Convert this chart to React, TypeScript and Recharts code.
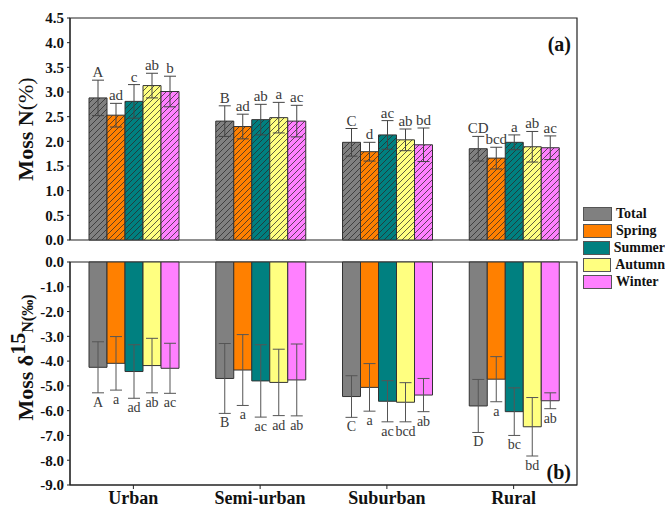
import {
  Bar,
  BarChart,
  ErrorBar,
  LabelList,
  Legend,
  ReferenceArea,
  XAxis,
  YAxis,
} from "recharts";

const categories = ["Urban", "Semi-urban", "Suburban", "Rural"];
const seriesNames = ["Total", "Spring", "Summer", "Autumn", "Winter"];
const seriesColors = ["#808080", "#ff8000", "#008080", "#ffff80", "#ff80ff"];

// panel (a): moss N (%)
const nTotal = [2.88, 2.41, 1.98, 1.85];
const nSpring = [2.53, 2.3, 1.79, 1.66];
const nSummer = [2.81, 2.44, 2.13, 1.98];
const nAutumn = [3.13, 2.48, 2.03, 1.89];
const nWinter = [3.01, 2.41, 1.93, 1.87];
const nTotalErr = [0.36, 0.31, 0.28, 0.25];
const nSpringErr = [0.24, 0.25, 0.19, 0.22];
const nSummerErr = [0.34, 0.31, 0.29, 0.15];
const nAutumnErr = [0.25, 0.31, 0.22, 0.31];
const nWinterErr = [0.31, 0.32, 0.34, 0.24];
const nTotalSig = ["A", "B", "C", "CD"];
const nSpringSig = ["ad", "ad", "d", "bcd"];
const nSummerSig = ["c", "ab", "ac", "a"];
const nAutumnSig = ["ab", "a", "ab", "ab"];
const nWinterSig = ["b", "ac", "bd", "ac"];
const nTicks = [0, 0.5, 1, 1.5, 2, 2.5, 3, 3.5, 4, 4.5];

// panel (b): moss d15N (permil)
const dTotal = [-4.25, -4.7, -5.43, -5.81];
const dSpring = [-4.09, -4.36, -5.06, -4.73];
const dSummer = [-4.42, -4.8, -5.62, -6.04];
const dAutumn = [-4.18, -4.86, -5.66, -6.65];
const dWinter = [-4.29, -4.76, -5.37, -5.6];
const dTotalErr = [1.03, 1.41, 0.84, 1.07];
const dSpringErr = [1.08, 1.43, 0.96, 0.91];
const dSummerErr = [1.08, 1.46, 0.83, 0.96];
const dAutumnErr = [1.1, 1.34, 0.79, 1.18];
const dWinterErr = [1.01, 1.45, 0.67, 0.32];
const dTotalSig = ["A", "B", "C", "D"];
const dSpringSig = ["a", "a", "a", "a"];
const dSummerSig = ["ad", "ac", "ac", "bc"];
const dAutumnSig = ["ab", "ad", "bcd", "bd"];
const dWinterSig = ["ac", "ab", "ab", "ab"];
const dTicks = [0, -1, -2, -3, -4, -5, -6, -7, -8, -9];

const FONT = "'Liberation Serif', 'Times New Roman', serif";
const keys = ["total", "spring", "summer", "autumn", "winter"];

const nVals = [nTotal, nSpring, nSummer, nAutumn, nWinter];
const nErrs = [nTotalErr, nSpringErr, nSummerErr, nAutumnErr, nWinterErr];
const nSigs = [nTotalSig, nSpringSig, nSummerSig, nAutumnSig, nWinterSig];
const dVals = [dTotal, dSpring, dSummer, dAutumn, dWinter];
const dErrs = [dTotalErr, dSpringErr, dSummerErr, dAutumnErr, dWinterErr];
const dSigs = [dTotalSig, dSpringSig, dSummerSig, dAutumnSig, dWinterSig];

function buildRows(vals: number[][], errs: number[][], sigs: string[][]) {
  return categories.map((cat, i) => {
    const row: Record<string, string | number> = { cat };
    keys.forEach((k, s) => {
      row[k] = vals[s][i];
      row[k + "Err"] = errs[s][i];
      row[k + "Sig"] = sigs[s][i];
    });
    return row;
  });
}

const nData = buildRows(nVals, nErrs, nSigs);
const dData = buildRows(dVals, dErrs, dSigs);

// letter placed just past the end of the error bar
function sigLabel(vals: number[], errs: number[], sigs: string[], below: boolean) {
  return (props: any) => {
    const vb = props.viewBox ?? {};
    const x = Number(props.x ?? vb.x);
    const y = Number(props.y ?? vb.y);
    const w = Number(props.width ?? vb.width);
    const h = Number(props.height ?? vb.height);
    const i = props.index;
    if (i == null || isNaN(x)) return null;
    const ppu = Math.abs(h) / Math.abs(vals[i]);
    const top = Math.min(y, y + h);
    const bot = Math.max(y, y + h);
    const ty = below ? bot + errs[i] * ppu + 14 : top - errs[i] * ppu - 3;
    return (
      <text
        x={x + w / 2}
        y={ty}
        textAnchor="middle"
        fontFamily={FONT}
        fontSize={below ? 14 : 15}
        fill="#3a3a3a"
      >
        {sigs[i]}
      </text>
    );
  };
}

const tickStyle = {
  fontFamily: FONT,
  fontWeight: 700,
  fontSize: 15,
  fill: "#111",
};

function NLabel(props: any) {
  const vb = props.viewBox;
  const cy = vb.y + vb.height / 2;
  return (
    <text
      x={33}
      y={cy}
      transform={`rotate(-90, 33, ${cy})`}
      textAnchor="middle"
      fontFamily={FONT}
      fontWeight={700}
      fontSize={22}
      fill="#111"
    >
      Moss N<tspan fontWeight={400}>(%)</tspan>
    </text>
  );
}

function DLabel(props: any) {
  const vb = props.viewBox;
  const cy = vb.y + vb.height / 2 - 16;
  return (
    <text
      x={33}
      y={cy}
      transform={`rotate(-90, 33, ${cy})`}
      textAnchor="middle"
      fontFamily={FONT}
      fontWeight={700}
      fontSize={22}
      fill="#111"
    >
      Moss δ<tspan dy={-8}>15</tspan>
      <tspan dy={8} fontSize={16}>
        N(‰)
      </tspan>
    </text>
  );
}

function panelTag(tag: string, atBottom: boolean) {
  return (props: any) => {
    const vb = props.viewBox;
    return (
      <text
        x={vb.x + vb.width - 6}
        y={atBottom ? vb.y + vb.height - 6 : vb.y + 33}
        textAnchor="end"
        fontFamily={FONT}
        fontWeight={700}
        fontSize={20}
        fill="#111"
      >
        {tag}
      </text>
    );
  };
}

function LegendBox() {
  return (
    <div style={{ fontFamily: FONT, fontWeight: 700, fontSize: 14, color: "#111" }}>
      {seriesNames.map((s, i) => (
        <div key={s} style={{ display: "flex", alignItems: "center", height: 17 }}>
          <span
            style={{
              display: "inline-block",
              width: 29,
              height: 14,
              boxSizing: "border-box",
              background: seriesColors[i],
              border: "1px solid #555",
              marginRight: 4,
            }}
          />
          <span>{s}</span>
        </div>
      ))}
    </div>
  );
}

export default function App() {
  return (
    <div
      style={{
        position: "absolute",
        left: 0,
        top: 0,
        width: 665,
        height: 508,
        background: "#fff",
      }}
    >
      <div style={{ position: "absolute", left: 0, top: 0 }}>
        <BarChart
          width={665}
          height={250}
          data={nData}
          margin={{ top: 18, right: 88, bottom: 10, left: 0 }}
          barCategoryGap="15%"
          barGap={0}
        >
          <defs>
            {keys.map((k, i) => (
              <pattern
                key={k}
                id={"hatch-" + k}
                width={6}
                height={6}
                patternUnits="userSpaceOnUse"
              >
                <rect width={6} height={6} fill={seriesColors[i]} />
                <path
                  d="M0,6 L6,0 M-1.5,1.5 L1.5,-1.5 M4.5,7.5 L7.5,4.5"
                  stroke="#2a2a2a"
                  strokeWidth={0.75}
                />
              </pattern>
            ))}
          </defs>
          <XAxis dataKey="cat" hide />
          <YAxis
            domain={[0, 4.5]}
            ticks={nTicks}
            tickFormatter={(v: number) => v.toFixed(1)}
            tick={tickStyle}
            tickSize={3}
            tickMargin={3}
            axisLine={{ stroke: "#222" }}
            tickLine={{ stroke: "#222" }}
            width={70}
            interval={0}
            label={<NLabel />}
          />
          <ReferenceArea
            y1={0}
            y2={4.5}
            fill="none"
            stroke="#222"
            strokeWidth={1.2}
            label={panelTag("(a)", false)}
          />
          {keys.map((k, i) => (
            <Bar
              key={k}
              dataKey={k}
              name={seriesNames[i]}
              fill={`url(#hatch-${k})`}
              stroke="#333"
              strokeWidth={1}
              isAnimationActive={false}
            >
              <ErrorBar dataKey={k + "Err"} width={6} stroke="#444" strokeWidth={1} direction="y" />
              <LabelList content={sigLabel(nVals[i], nErrs[i], nSigs[i], false)} />
            </Bar>
          ))}
          <Legend
            layout="vertical"
            align="center"
            verticalAlign="middle"
            content={<LegendBox />}
            wrapperStyle={{ left: 583, top: 205, width: 82 }}
          />
        </BarChart>
      </div>
      <div style={{ position: "absolute", left: 0, top: 250 }}>
        <BarChart
          width={665}
          height={258}
          data={dData}
          margin={{ top: 12, right: 88, bottom: 0, left: 0 }}
          barCategoryGap="15%"
          barGap={0}
        >
          <XAxis
            dataKey="cat"
            height={23}
            tick={{ ...tickStyle, fontSize: 18 }}
            tickSize={4}
            tickMargin={2}
            axisLine={{ stroke: "#222" }}
            tickLine={{ stroke: "#222" }}
            interval={0}
          />
          <YAxis
            domain={[-9, 0]}
            ticks={dTicks}
            tickFormatter={(v: number) => v.toFixed(1)}
            tick={tickStyle}
            tickSize={3}
            tickMargin={3}
            axisLine={{ stroke: "#222" }}
            tickLine={{ stroke: "#222" }}
            width={70}
            interval={0}
            label={<DLabel />}
          />
          <ReferenceArea
            y1={-9}
            y2={0}
            fill="none"
            stroke="#222"
            strokeWidth={1.2}
            label={panelTag("(b)", true)}
          />
          {keys.map((k, i) => (
            <Bar
              key={k}
              dataKey={k}
              name={seriesNames[i]}
              fill={seriesColors[i]}
              stroke="#333"
              strokeWidth={1}
              isAnimationActive={false}
            >
              <ErrorBar dataKey={k + "Err"} width={6} stroke="#555" strokeWidth={1} direction="y" />
              <LabelList content={sigLabel(dVals[i], dErrs[i], dSigs[i], true)} />
            </Bar>
          ))}
        </BarChart>
      </div>
    </div>
  );
}
